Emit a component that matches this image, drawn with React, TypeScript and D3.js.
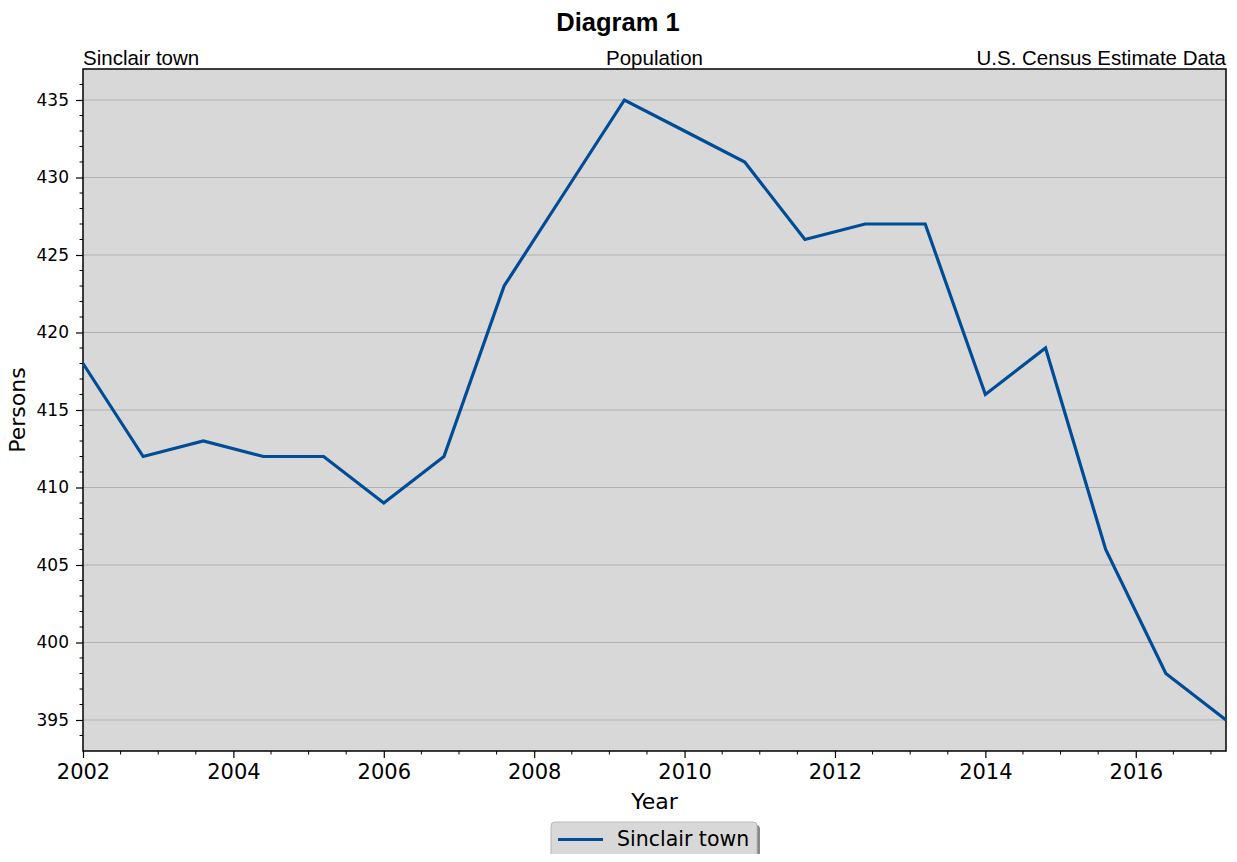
import * as d3 from 'd3';
import React, { useRef, useEffect } from 'react';

// population estimates, Sinclair town
const years = [2002, 2002.8, 2003.6, 2004.4, 2005.2, 2006, 2006.8, 2007.6, 2008.4, 2009.2,
    2010, 2010.8, 2011.6, 2012.4, 2013.2, 2014, 2014.8, 2015.6, 2016.4, 2017.2];
const persons = [418, 412, 413, 412, 412, 409, 412, 423, 429, 435,
    433, 431, 426, 427, 427, 416, 419, 406, 398, 395];
const yTicks = [395, 400, 405, 410, 415, 420, 425, 430, 435];
const xTicks = [2002, 2004, 2006, 2008, 2010, 2012, 2014, 2016];
const seriesName = 'Sinclair town';

const W = 1237;
const H = 862;
const arial = '"Liberation Sans", Arial, sans-serif';
const dejavu = '"DejaVu Sans", sans-serif';

function LineChart() {
    const ref = useRef<SVGSVGElement>(null);
    const left = 83, right = 1226, top = 69, bottom = 751;

    useEffect(() => {
        const svg = d3.select(ref.current);
        svg.selectAll('*').remove();

        const x = d3.scaleLinear().domain([2002, 2017.2]).range([left, right]);
        const y = d3.scaleLinear().domain([393, 437]).range([bottom, top]);

        svg.append('rect')
            .attr('x', left).attr('y', top)
            .attr('width', right - left).attr('height', bottom - top)
            .attr('fill', '#d8d8d8');

        // grid
        svg.append('g').selectAll('line').data(yTicks).enter().append('line')
            .attr('x1', left).attr('x2', right)
            .attr('y1', d => y(d)).attr('y2', d => y(d))
            .attr('stroke', '#b0b0b0').attr('stroke-width', 1.2);

        // minor ticks
        const yMinor = d3.range(394, 437, 1).filter(v => v % 5 !== 0);
        svg.append('g').selectAll('line').data(yMinor).enter().append('line')
            .attr('x1', left - 3.5).attr('x2', left)
            .attr('y1', d => y(d)).attr('y2', d => y(d))
            .attr('stroke', '#000').attr('stroke-width', 1);
        const xMinor = d3.range(2002.5, 2017.2, 0.5).filter(v => v % 2 !== 0);
        svg.append('g').selectAll('line').data(xMinor).enter().append('line')
            .attr('x1', d => x(d)).attr('x2', d => x(d))
            .attr('y1', bottom).attr('y2', bottom + 3.5)
            .attr('stroke', '#000').attr('stroke-width', 1);

        // y axis
        const yAxis = svg.append('g')
            .attr('transform', `translate(${left},0)`)
            .call(d3.axisLeft(y).tickValues(yTicks).tickSize(7).tickPadding(7).tickSizeOuter(0));
        yAxis.select('.domain').remove();
        yAxis.selectAll('text').attr('font-family', dejavu).attr('font-size', 17).attr('fill', '#000');
        yAxis.selectAll('line').attr('stroke-width', 1.2);

        // x axis
        const xAxis = svg.append('g')
            .attr('transform', `translate(0,${bottom})`)
            .call(d3.axisBottom(x).tickValues(xTicks).tickFormat(d3.format('d')).tickSize(7).tickPadding(6).tickSizeOuter(0));
        xAxis.select('.domain').remove();
        xAxis.selectAll('text').attr('font-family', dejavu).attr('font-size', 21).attr('fill', '#000');
        xAxis.selectAll('line').attr('stroke-width', 1.2);

        // frame
        svg.append('rect')
            .attr('x', left).attr('y', top)
            .attr('width', right - left).attr('height', bottom - top)
            .attr('fill', 'none').attr('stroke', '#000').attr('stroke-width', 1.5);

        const line = d3.line<number>()
            .x((d, i) => x(years[i]))
            .y(d => y(d));
        svg.append('path')
            .datum(persons)
            .attr('d', line)
            .attr('fill', 'none')
            .attr('stroke', '#004c97')
            .attr('stroke-width', 3.2)
            .attr('stroke-linejoin', 'miter');

        // titles
        svg.append('text').attr('x', 618).attr('y', 31).attr('text-anchor', 'middle')
            .attr('font-family', arial).attr('font-weight', 'bold').attr('font-size', 25.5)
            .text('Diagram 1');
        svg.append('text').attr('x', left).attr('y', 65)
            .attr('font-family', arial).attr('font-size', 20.5).text('Sinclair town');
        svg.append('text').attr('x', (left + right) / 2).attr('y', 65).attr('text-anchor', 'middle')
            .attr('font-family', arial).attr('font-size', 20.5).text('Population');
        svg.append('text').attr('x', right).attr('y', 65).attr('text-anchor', 'end')
            .attr('font-family', arial).attr('font-size', 20.5).text('U.S. Census Estimate Data');

        svg.append('text').attr('x', (left + right) / 2).attr('y', 809).attr('text-anchor', 'middle')
            .attr('font-family', dejavu).attr('font-size', 22).text('Year');
        svg.append('text')
            .attr('transform', `translate(25,${(top + bottom) / 2}) rotate(-90)`)
            .attr('text-anchor', 'middle')
            .attr('font-family', dejavu).attr('font-size', 22).text('Persons');

        // legend
        const lg = svg.append('g');
        lg.append('rect').attr('x', 554).attr('y', 825).attr('width', 206).attr('height', 36).attr('rx', 4)
            .attr('fill', '#888');
        lg.append('rect').attr('x', 551).attr('y', 822).attr('width', 206).attr('height', 36).attr('rx', 4)
            .attr('fill', '#d8d8d8').attr('stroke', '#b8b8b8').attr('stroke-width', 1);
        lg.append('line').attr('x1', 558).attr('x2', 603).attr('y1', 839.5).attr('y2', 839.5)
            .attr('stroke', '#004c97').attr('stroke-width', 3.2);
        lg.append('text').attr('x', 617).attr('y', 846)
            .attr('font-family', dejavu).attr('font-size', 20.5).text(seriesName);
    }, []);

    return <svg ref={ref} width={W} height={H} style={{ display: 'block' }} />;
}

export default function App() {
    return (
        <div style={{ margin: -8 }}>
            <LineChart />
        </div>
    );
}
